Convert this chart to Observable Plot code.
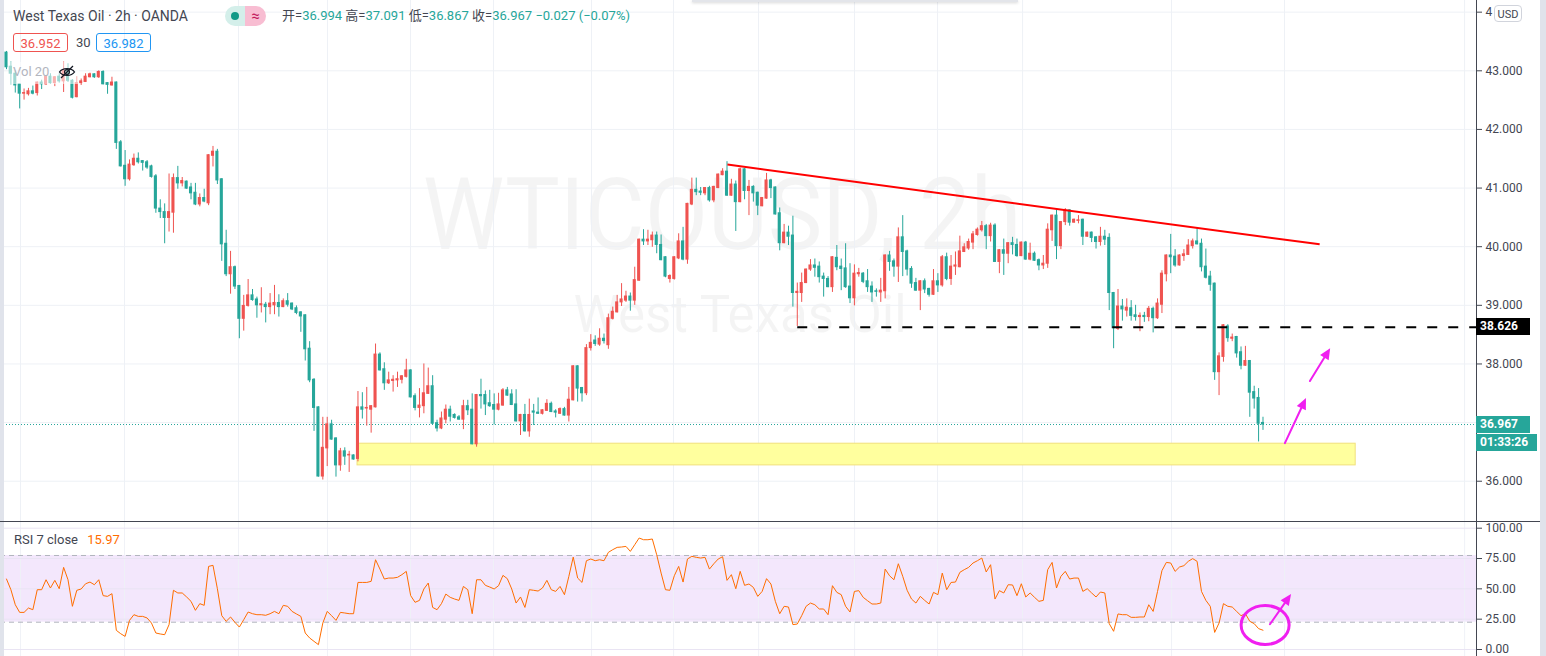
<!DOCTYPE html>
<html><head><meta charset="utf-8">
<script src="https://cdn.jsdelivr.net/npm/d3@7"></script>
<script src="https://cdn.jsdelivr.net/npm/@observablehq/plot@0.6"></script>
<style>
html,body{margin:0;padding:0;background:#fff;overflow:hidden;}
#wrap{position:relative;width:1546px;height:656px;font-family:Roboto,"Noto Sans CJK SC",sans-serif;color:#434651;}
.abs{position:absolute;white-space:nowrap;}
.wm{position:absolute;width:1476px;text-align:center;color:rgba(0,0,0,0.045);font-family:Roboto,sans-serif;white-space:nowrap;}
.v{color:#26a69a;}
.box{position:absolute;height:19px;line-height:19px;border-radius:3px;font-size:13px;text-align:center;box-sizing:border-box;}
.plabel{position:absolute;left:1476px;height:17px;line-height:17px;color:#fff;font-size:12px;font-weight:bold;padding-left:4px;box-sizing:border-box;}
</style></head><body><div id="wrap"></div><script>
// ---------- data (2h candles, index 0..286) ----------
const open = [
43.31,43.07,42.95,42.77,42.61,42.60,42.65,42.62,42.80,42.77,
42.90,42.79,42.90,42.82,43.00,42.83,42.55,42.79,42.81,42.89,
42.94,42.89,42.98,42.79,42.75,42.80,41.78,41.38,41.15,41.39,
41.50,41.46,41.44,41.37,41.20,40.65,40.59,40.49,40.58,41.17,
41.08,41.11,41.01,40.92,40.72,40.83,40.74,41.55,41.62,41.15,
40.05,39.53,39.65,39.33,38.77,38.99,39.17,39.10,39.00,39.01,
38.97,39.00,39.04,38.97,39.07,39.03,38.95,38.88,38.83,38.26,
37.73,37.26,36.08,36.56,36.97,36.73,36.27,36.51,36.44,36.44,
36.38,37.26,37.24,37.22,37.26,38.16,37.91,37.67,37.71,37.72,
37.73,37.78,37.89,37.45,37.25,37.28,37.49,37.62,36.99,36.90,
37.05,37.22,37.13,37.09,37.05,37.28,37.22,36.63,37.47,37.47,
37.33,37.30,37.22,37.29,37.55,37.48,37.31,37.02,37.13,36.85,
37.19,37.17,37.15,37.20,37.32,37.19,37.15,37.23,37.12,37.38,
37.96,37.59,37.50,38.27,38.40,38.33,38.43,38.32,38.77,38.88,
39.05,39.08,39.15,39.08,39.42,40.12,40.09,40.11,40.19,40.03,
39.82,39.45,39.45,39.80,40.09,39.78,40.72,40.97,40.94,40.91,
41.00,40.79,41.00,41.22,41.28,40.87,41.06,40.76,41.32,40.95,
41.02,40.92,40.69,40.82,41.13,41.01,40.57,40.06,40.24,40.19,
39.21,39.21,39.38,39.61,39.68,39.66,39.49,39.45,39.31,39.81,
39.66,39.63,39.32,39.12,39.53,39.54,39.41,39.32,39.24,39.22,
39.24,39.85,39.75,39.66,40.16,39.92,39.62,39.38,39.25,39.41,
39.28,39.18,39.41,39.34,39.82,39.45,39.66,39.65,39.91,39.97,
40.07,40.20,40.28,40.35,40.18,40.36,39.74,39.94,39.88,40.06,
40.03,39.84,40.07,39.78,39.88,39.77,39.68,39.71,40.28,40.53,
40.01,40.42,40.62,40.41,40.44,40.46,40.17,40.24,40.16,40.08,
40.17,40.15,39.21,38.60,38.98,38.91,38.95,38.83,38.80,38.82,
38.80,38.94,38.78,39.01,39.53,39.85,39.83,39.68,39.84,39.86,
40.01,40.09,40.05,39.66,39.49,39.37,37.86,38.12,38.64,38.43,
38.46,38.20,37.97,38.05,37.52,37.42,36.994];
const high = [
43.33,43.15,43.00,42.77,42.69,42.70,42.74,42.81,42.84,42.92,
42.95,42.90,42.95,43.15,43.12,42.85,42.90,42.86,42.95,42.96,
42.95,43.00,43.00,42.80,42.89,42.81,41.81,41.64,41.48,41.58,
41.60,41.47,41.47,41.39,41.23,40.80,40.73,41.24,41.24,41.37,
41.18,41.12,41.08,41.08,40.90,40.98,41.57,41.71,41.66,41.16,
40.28,39.92,39.67,39.34,39.17,39.44,39.27,39.14,39.30,39.05,
39.20,39.34,39.18,39.11,39.20,39.04,38.99,38.89,38.84,38.38,
37.75,37.27,37.09,37.09,37.04,36.74,36.56,36.57,36.51,36.45,
37.53,37.51,37.60,37.29,38.34,38.19,38.02,37.86,37.80,37.86,
37.80,38.08,37.90,37.49,37.58,38.00,37.93,37.80,37.04,37.18,
37.30,37.28,37.15,37.12,37.38,37.38,37.49,37.48,37.74,37.54,
37.55,37.49,37.50,37.58,37.60,37.56,37.56,37.14,37.31,37.40,
37.31,37.42,37.22,37.39,37.35,37.22,37.25,37.26,37.60,37.97,
37.97,37.60,38.33,38.50,38.48,38.60,38.51,38.85,38.97,39.17,
39.37,39.24,39.21,39.65,40.13,40.29,40.28,40.25,40.25,40.20,
39.83,39.52,39.83,40.22,40.33,40.74,41.17,41.17,41.01,41.01,
41.03,41.03,41.24,41.33,41.45,41.15,41.12,41.34,41.33,41.13,
41.04,40.93,40.84,41.25,41.15,41.02,40.66,40.38,40.35,40.52,
39.38,39.55,39.62,39.78,39.79,39.74,39.55,39.49,39.83,40.02,
39.79,40.05,39.71,39.69,39.63,39.56,39.61,39.40,39.28,39.46,
39.86,39.92,39.79,40.32,40.53,39.94,39.66,39.46,39.42,39.45,
39.29,39.61,39.54,39.85,39.89,39.85,39.91,40.18,40.05,40.13,
40.26,40.32,40.43,40.38,40.40,40.39,39.95,40.13,40.07,40.16,
40.13,40.08,40.09,40.06,39.91,39.79,39.85,40.39,40.54,40.62,
40.43,40.65,40.63,40.47,40.53,40.47,40.25,40.25,40.17,40.33,
40.28,40.22,39.22,39.27,39.10,39.11,39.08,39.00,38.87,38.88,
38.98,38.97,39.11,39.59,39.86,40.21,39.95,39.86,39.95,40.12,
40.13,40.32,40.13,39.96,39.58,39.38,38.19,38.67,38.67,38.51,
38.47,38.29,38.30,38.06,37.62,37.58,37.091];
const low = [
43.02,42.76,42.62,42.35,42.50,42.57,42.59,42.57,42.68,42.75,
42.77,42.73,42.79,42.63,42.80,42.52,42.54,42.75,42.80,42.88,
42.87,42.87,42.76,42.60,42.74,41.66,41.36,41.03,41.12,41.37,
41.41,41.29,41.32,41.17,40.57,40.48,40.05,40.25,40.23,40.98,
41.02,40.98,40.80,40.70,40.68,40.75,40.70,41.36,41.06,39.75,
39.49,39.19,39.27,38.43,38.56,38.97,39.07,38.78,38.87,38.70,
38.84,38.84,38.80,38.96,38.97,38.91,38.84,38.54,38.05,37.68,
36.85,36.07,36.02,36.25,36.70,36.07,36.17,36.27,36.15,36.36,
36.33,37.06,36.94,36.82,37.25,37.88,37.55,37.65,37.52,37.60,
37.66,37.76,37.42,37.20,37.08,37.15,37.48,36.97,36.84,36.88,
36.98,37.01,37.06,37.04,36.88,37.12,36.62,36.58,37.23,37.12,
37.26,36.96,37.20,37.28,37.45,37.29,37.01,36.78,36.84,36.75,
36.95,37.14,37.13,37.19,37.17,37.08,37.14,37.11,37.01,37.37,
37.35,37.35,37.46,38.22,38.30,38.30,38.34,38.25,38.75,38.87,
38.98,39.05,38.90,39.00,39.41,40.02,40.02,39.99,39.88,39.76,
39.47,39.38,39.43,39.78,39.76,39.70,40.70,40.87,40.87,40.87,
40.76,40.75,40.99,41.21,40.86,40.86,40.26,40.75,40.80,40.53,
40.76,40.53,40.68,40.81,40.82,40.54,39.93,40.05,40.02,38.97,
38.64,39.05,39.37,39.58,39.48,39.38,39.14,39.30,39.22,39.59,
39.25,39.29,39.03,38.99,39.48,39.37,39.22,39.05,39.14,39.05,
39.11,39.58,39.48,39.39,39.49,39.50,39.29,39.24,38.91,39.20,
39.14,39.17,39.22,39.31,39.42,39.34,39.51,39.64,39.90,39.94,
39.95,40.18,40.25,39.95,40.08,39.73,39.54,39.51,39.71,39.86,
39.82,39.83,39.77,39.76,39.75,39.59,39.61,39.63,40.09,39.78,
39.95,40.36,40.35,40.40,40.39,40.02,40.16,40.07,39.96,40.01,
40.02,38.91,38.26,38.57,38.73,38.80,38.73,38.73,38.55,38.71,
38.72,38.53,38.76,38.86,39.40,39.54,39.65,39.67,39.75,39.85,
39.96,40.03,39.57,39.45,39.24,37.72,37.46,38.03,38.37,38.38,
38.10,37.90,37.96,37.09,37.23,36.67,36.867];
const close = [
43.06,42.95,42.75,42.61,42.62,42.65,42.61,42.80,42.77,42.90,
42.79,42.89,42.82,43.00,42.83,42.54,42.79,42.82,42.90,42.94,
42.89,42.98,42.77,42.76,42.80,41.77,41.37,41.15,41.40,41.50,
41.44,41.43,41.35,41.19,40.65,40.59,40.49,40.59,41.17,41.08,
41.12,40.99,40.91,40.72,40.83,40.77,41.56,41.62,41.13,40.04,
39.53,39.65,39.32,38.77,38.99,39.17,39.09,39.00,39.02,38.97,
39.03,39.04,38.97,39.07,39.01,38.93,38.87,38.81,38.25,37.72,
37.25,36.08,36.57,36.97,36.71,36.27,36.51,36.42,36.45,36.37,
37.26,37.22,37.25,37.28,38.16,37.89,37.67,37.72,37.73,37.74,
37.79,37.89,37.43,37.25,37.29,37.50,37.62,36.98,36.90,37.07,
37.22,37.10,37.08,37.05,37.28,37.21,36.63,37.47,37.45,37.31,
37.28,37.22,37.31,37.55,37.46,37.30,37.02,37.13,36.85,37.13,
37.17,37.15,37.21,37.32,37.18,37.17,37.23,37.12,37.39,37.96,
37.58,37.50,38.27,38.36,38.34,38.43,38.39,38.78,38.89,39.05,
39.10,39.15,39.08,39.43,40.12,40.09,40.12,40.19,40.03,39.77,
39.49,39.50,39.82,40.09,39.78,40.73,40.97,40.93,40.92,41.00,
40.79,41.02,41.23,41.28,40.87,41.06,40.76,41.32,40.95,41.02,
40.91,40.70,40.83,41.13,41.00,40.55,40.06,40.24,40.17,39.21,
39.23,39.38,39.61,39.68,39.64,39.48,39.45,39.31,39.82,39.65,
39.62,39.31,39.12,39.54,39.55,39.40,39.31,39.22,39.23,39.25,
39.85,39.74,39.66,40.16,39.91,39.61,39.37,39.25,39.41,39.27,
39.18,39.41,39.34,39.82,39.45,39.66,39.68,39.92,39.99,40.08,
40.21,40.29,40.35,40.18,40.36,39.74,39.94,39.88,40.06,40.03,
39.84,40.07,39.78,39.88,39.76,39.68,39.71,40.29,40.53,40.01,
40.42,40.62,40.41,40.46,40.45,40.17,40.24,40.15,40.08,40.17,
40.12,39.21,38.61,38.98,38.93,38.96,38.82,38.80,38.82,38.80,
38.94,38.78,39.03,39.54,39.85,39.82,39.68,39.85,39.87,40.02,
40.09,40.04,39.65,39.47,39.35,37.86,38.13,38.66,38.44,38.45,
38.18,37.97,38.05,37.51,37.41,36.98,36.967];
const rsi7 = [
58.1,49.3,36.9,30.6,30.6,34.2,32.8,49.3,49.3,57.5,
50.7,57.0,50.1,67.7,57.5,35.6,48.8,49.9,54.2,55.6,
53.4,57.5,44.4,43.8,46.0,15.8,13.0,10.8,24.0,28.7,
27.3,27.3,26.0,21.8,13.6,12.8,12.2,20.5,48.8,46.6,
46.6,43.3,39.7,32.3,37.8,36.4,68.5,69.4,50.1,27.9,
23.2,26.8,22.4,18.5,24.6,30.9,29.5,28.7,28.7,28.2,
29.5,31.4,29.5,36.4,35.6,31.4,29.3,27.3,13.6,9.5,
6.7,4.0,21.8,31.4,27.9,24.0,30.6,30.1,29.5,29.5,
55.3,55.3,55.3,56.2,74.0,66.3,58.1,58.9,58.9,59.5,
61.7,64.4,44.4,38.9,40.5,49.9,54.8,34.7,32.8,37.8,
45.7,43.0,41.6,40.5,52.0,49.3,29.5,57.5,57.5,52.9,
51.5,49.9,52.6,61.1,58.4,49.9,38.3,43.3,34.7,49.3,
48.8,48.2,50.7,57.0,49.3,47.9,52.0,45.2,60.3,76.2,
58.9,55.3,73.2,74.6,73.2,74.0,73.2,80.1,82.3,84.2,
84.5,85.0,80.9,86.4,91.9,90.5,90.5,91.1,78.1,63.0,
49.3,48.8,60.8,68.5,55.6,74.6,76.8,76.0,75.4,76.0,
66.3,70.7,74.6,76.5,57.0,61.7,50.1,64.4,52.9,54.0,
51.2,43.8,47.9,58.4,54.0,39.7,29.5,35.6,35.0,20.5,
21.0,27.9,35.6,38.3,36.9,33.4,33.4,28.7,52.6,47.1,
45.2,35.6,30.9,47.9,48.5,43.0,40.2,37.5,37.5,38.3,
66.3,60.8,57.5,70.7,60.3,48.8,41.6,38.3,43.8,40.5,
37.5,47.1,45.2,63.0,49.3,55.3,55.6,63.6,65.8,67.7,
71.3,73.2,75.4,63.9,69.9,41.6,48.5,46.6,53.4,53.2,
44.4,54.2,43.3,46.6,43.0,39.7,40.5,65.8,71.8,50.7,
60.3,64.4,58.1,58.9,58.9,47.9,50.1,46.6,43.3,47.4,
46.6,21.3,15.0,29.3,28.7,28.7,26.5,26.5,26.8,26.8,
36.9,31.4,47.9,65.0,71.8,71.3,64.4,68.0,69.1,72.7,
74.9,72.7,47.9,40.5,35.6,14.1,21.8,37.8,35.6,35.0,
31.4,27.9,29.5,23.2,21.3,17.2,15.9];
const priceTicks = [36, 37, 38, 39, 40, 41, 42, 43, 44];
const hiddenTick = 37;   // covered by the last-price label in the reference
const topTick = 44;      // cut by the currency box: only "4" shows
const rsiTicks = [0, 25, 50, 75, 100];
const timeGridIndex = [3.19, 26.86, 52.81, 73.07, 91.96, 110.86, 133.17, 151.83, 171.18, 193.03, 211.93, 231.28, 265.19, 290.91, 331.89];
const lastPrice = 36.967;
const supportLevel = 38.626, supportStart = 180.1;
const trendLine = [{i1: 164.1, p1: 41.40, i2: 298.9, p2: 40.04}];
const demandZone = [{i1: 79.9, i2: 307.1, p1: 36.27, p2: 36.64}];
const priceArrows = [[291.1, 36.64, 295.9, 37.41], [296.8, 37.70, 301.4, 38.26]];
const rsiArrow = [287.7, 20.4, 292.5, 45.3];
const rsiCircle = {i: 286.6, v: 19.8};
const rsiBand = [{lo: 22.5, hi: 77.5}];
const xDomain = [-1.366, 334.6];

// ---------- chart ----------
const UP = "#ef5350", DOWN = "#26a69a", GRID = "#eef1f6", AX = "#434651", MAG = "#f01ff0";
const candles = open.map((o, i) => ({i, o, h: high[i], l: low[i], c: close[i]}));
const col = d => d.c >= d.o ? UP : DOWN;
const W = 1546, MR = 70;
const style = {background: "transparent", fontFamily: "Roboto, sans-serif", fontSize: "12px", color: AX, overflow: "visible"};
const f3 = d3.format(".3f");
const priceFormat = d => d === hiddenTick ? "" : d === topTick ? "4" : f3(d);

const main = Plot.plot({
  width: W, height: 522, marginLeft: 0, marginRight: MR, marginTop: 0, marginBottom: 0,
  x: {domain: xDomain, axis: null},
  y: {domain: [35.296, 44.199]},
  style,
  marks: [
    Plot.ruleX(timeGridIndex, {stroke: GRID}),
    Plot.gridY(priceTicks, {stroke: GRID, strokeOpacity: 1}),
    Plot.rect(demandZone, {x1: "i1", x2: "i2", y1: "p1", y2: "p2", fill: "#ffff9e", stroke: "#f1e07c", strokeWidth: 1}),
    Plot.ruleY([lastPrice], {stroke: DOWN, strokeDasharray: "1,2"}),
    Plot.ruleX(candles, {x: "i", y1: d => Math.min(d.l, d.o, d.c), y2: d => Math.max(d.h, d.o, d.c), stroke: col, strokeWidth: 1}),
    Plot.rect(candles, {x1: d => d.i - 0.35, x2: d => d.i + 0.35, y1: d => Math.min(d.o, d.c), y2: d => Math.max(d.o, d.c), fill: col, insetTop: -0.5, insetBottom: -0.5}),
    Plot.link(trendLine, {x1: "i1", y1: "p1", x2: "i2", y2: "p2", stroke: "#ff0000", strokeWidth: 2}),
    Plot.ruleY([supportLevel], {x1: supportStart, x2: xDomain[1], stroke: "#000", strokeWidth: 2, strokeDasharray: "10,11"}),
    Plot.ruleX([xDomain[1]], {stroke: AX}),
    Plot.axisY(priceTicks, {anchor: "right", tickSize: 5, tickPadding: 4, tickFormat: priceFormat, label: null, fontSize: 12})
  ]
});

const rsiPlot = Plot.plot({
  width: W, height: 134, marginLeft: 0, marginRight: MR, marginTop: 0, marginBottom: 0,
  x: {domain: xDomain, axis: null},
  y: {domain: [-5.77, 104.7]},
  style,
  marks: [
    Plot.rect(rsiBand, {y1: "lo", y2: "hi", fill: "#f3e7fc"}),
    Plot.ruleX(timeGridIndex, {stroke: GRID, strokeOpacity: 0.9}),
    Plot.gridY(rsiTicks, {stroke: "#e9e4f3", strokeOpacity: 1}),
    Plot.ruleY(rsiBand.flatMap(b => [b.lo, b.hi]), {stroke: "#b2b5be", strokeDasharray: "5,4"}),
    Plot.line(rsi7, {x: (d, i) => i, y: d => d, stroke: "#ff6d00", strokeWidth: 1}),
    Plot.ruleX([xDomain[1]], {stroke: AX}),
    Plot.axisY(rsiTicks, {anchor: "right", tickSize: 5, tickPadding: 4, tickFormat: d3.format(".2f"), label: null, fontSize: 12})
  ]
});

function drawArrow(svg, plot, [a, b, c, d], color, width) {
  const sx = plot.scale("x"), sy = plot.scale("y");
  const X1 = sx.apply(a), Y1 = sy.apply(b), X2 = sx.apply(c), Y2 = sy.apply(d);
  const ang = Math.atan2(Y2 - Y1, X2 - X1), L = 11, H = 5;
  const bx = X2 - L * Math.cos(ang), by = Y2 - L * Math.sin(ang);
  const g = d3.select(svg).append("g");
  g.append("line").attr("x1", X1).attr("y1", Y1).attr("x2", bx).attr("y2", by)
    .attr("stroke", color).attr("stroke-width", width).attr("stroke-linecap", "round");
  g.append("path").attr("fill", color)
    .attr("d", `M${X2},${Y2}L${bx + H * Math.sin(ang)},${by - H * Math.cos(ang)}L${bx - H * Math.sin(ang)},${by + H * Math.cos(ang)}Z`);
}
priceArrows.forEach(a => drawArrow(main, main, a, MAG, 2));
drawArrow(rsiPlot, rsiPlot, rsiArrow, MAG, 2);
d3.select(rsiPlot).append("ellipse")
  .attr("cx", rsiPlot.scale("x").apply(rsiCircle.i)).attr("cy", rsiPlot.scale("y").apply(rsiCircle.v))
  .attr("rx", 24).attr("ry", 19.5).attr("fill", "none").attr("stroke", MAG).attr("stroke-width", 3);

// ---------- layout ----------
const wrap = document.getElementById("wrap");
const wm1 = document.createElement("div"); wm1.className = "wm";
wm1.style.cssText = "left:-16px;top:165px;font-size:100px;line-height:100px;transform:scaleX(0.92);";
wm1.textContent = "WTICOUSD, 2h";
const wm2 = document.createElement("div"); wm2.className = "wm";
wm2.style.cssText = "left:2px;top:289px;font-size:51px;line-height:51px;"; wm2.textContent = "West Texas Oil";
wrap.append(wm1, wm2);

main.style.position = "absolute"; main.style.left = "0"; main.style.top = "0";
rsiPlot.style.position = "absolute"; rsiPlot.style.left = "0"; rsiPlot.style.top = "522px";
wrap.append(main, rsiPlot);

const yM = v => main.scale("y").apply(v);
const html = `
<div class="abs" style="left:0;top:0;width:4px;height:656px;background:#e0e3eb"></div>
<div class="abs" style="left:1540px;top:0;width:6px;height:656px;background:#e0e3eb"></div>
<div class="abs" style="left:0;top:521px;width:1540px;height:1px;background:#434651"></div>
<div class="abs" style="left:692px;top:0;width:326px;height:2px;background:#e3e5ea;box-shadow:0 1px 3px rgba(0,0,0,0.18)"></div>
<div class="abs" style="left:9px;top:62px;width:70px;height:22px;background:rgba(255,255,255,0.55)"></div>
<div class="abs" style="left:13px;top:7px;font-size:14px;line-height:18px;color:#434651">West Texas Oil · 2h · OANDA</div>
<div class="abs" style="left:225px;top:6px;width:20px;height:20px;background:#d4efea;border-radius:10px 0 0 10px"></div>
<div class="abs" style="left:231px;top:12px;width:8px;height:8px;background:#129a87;border-radius:4px"></div>
<div class="abs" style="left:245px;top:6px;width:21px;height:20px;background:#f8bdd2;border-radius:0 10px 10px 0;color:#c2185b;font-size:15px;line-height:20px;text-align:center">≈</div>
<div class="abs" style="left:282px;top:7px;font-size:13px;line-height:18px;color:#434651">开=<span class="v">36.994</span> 高=<span class="v">37.091</span> 低=<span class="v">36.867</span> 收=<span class="v">36.967</span> <span class="v">−0.027 (−0.07%)</span></div>
<div class="box" style="left:13px;top:33px;width:55px;border:1px solid #ef5350;color:#ef5350">36.952</div>
<div class="abs" style="left:76px;top:33px;font-size:13px;line-height:19px;color:#434651">30</div>
<div class="box" style="left:96px;top:33px;width:55px;border:1px solid #2196f3;color:#2196f3">36.982</div>
<div class="abs" style="left:13px;top:64px;font-size:13px;line-height:16px;color:#b2b5be">Vol 20</div>
<svg class="abs" style="left:58px;top:65px" width="18" height="14" viewBox="0 0 18 14"><path d="M1.5 7C4.5 2.5 13.5 2.5 16.5 7C13.5 11.5 4.5 11.5 1.5 7Z" fill="none" stroke="#131722" stroke-width="1.3"/><circle cx="9" cy="7" r="2.4" fill="none" stroke="#131722" stroke-width="1.3"/><line x1="3" y1="13" x2="15" y2="1" stroke="#131722" stroke-width="1.3"/></svg>
<div class="abs" style="left:1494px;top:5px;width:28px;height:17px;line-height:17px;border:1px solid #d1d4dc;border-radius:4px;background:#fff;font-size:11px;text-align:center;color:#434651;box-sizing:border-box">USD</div>
<div class="plabel" style="top:${yM(supportLevel) - 8.5}px;width:54px;background:#000">38.626</div>
<div class="plabel" style="top:${yM(lastPrice) - 8.5}px;width:54px;background:#26a69a">36.967</div>
<div class="plabel" style="top:${yM(lastPrice) + 9.5}px;width:61px;background:#26a69a">01:33:26</div>
<div class="abs" style="left:14px;top:532px;font-size:13px;line-height:16px;color:#434651">RSI 7 close <span style="color:#ff6d00;margin-left:6px">15.97</span></div>
`;
wrap.insertAdjacentHTML("beforeend", html);
</script></body></html>
